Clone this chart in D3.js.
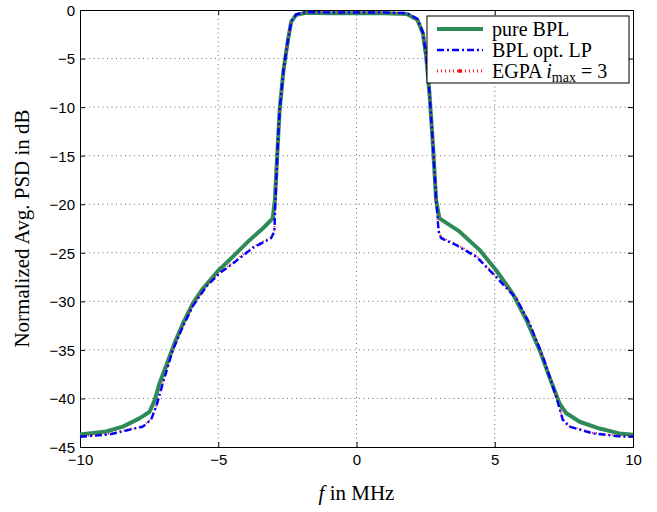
<!DOCTYPE html>
<html><head><meta charset="utf-8">
<script src="https://cdn.jsdelivr.net/npm/d3@7"></script>
<style>body{margin:0;background:#fff}svg{display:block}</style>
</head><body>
<script>
// ---- data ----
const xTicks = [-10, -5, 0, 5, 10];
const yTicks = [0, -5, -10, -15, -20, -25, -30, -35, -40, -45];
const seriesNames = ["pure BPL", "BPL opt. LP", "EGPA"];

const fPure = [-10,-9.05,-8.45,-7.85,-7.49,-7.3,-7.12,-6.88,-6.58,-6.28,-5.92,-5.56,-5.02,-4.47,-3.87,-3.39,-3.03,-2.95,-2.85,-2.78,-2.64,-2.48,-2.36,-2.18,-1.82,-1,0,1,1.82,2.2,2.4,2.52,2.64,2.76,2.88,3.0,3.72,4.45,5.05,5.65,6.14,6.62,6.98,7.34,7.58,8.07,8.79,9.5,10];
const psdPure = [-43.7,-43.4,-42.9,-42.05,-41.4,-40.2,-38.4,-36.6,-34.3,-32.3,-30.2,-28.7,-26.9,-25.4,-23.7,-22.5,-21.45,-19.5,-14,-10.3,-6.2,-3.1,-1.2,-0.5,-0.28,-0.33,-0.33,-0.33,-0.4,-1.0,-2.4,-4.8,-8.6,-13.7,-19.6,-21.45,-22.8,-24.7,-26.8,-29.2,-31.9,-35.0,-37.8,-40.5,-41.5,-42.4,-43.1,-43.6,-43.75];

const fLP = [-10,-8.93,-8.33,-7.73,-7.43,-7.24,-7.0,-6.64,-6.28,-5.92,-5.44,-4.95,-4.47,-3.75,-3.09,-2.97,-2.93,-2.85,-2.78,-2.64,-2.48,-2.36,-2.18,-1.82,-1,0,1,1.82,2.2,2.4,2.52,2.64,2.76,2.88,2.97,3.06,3.6,4.33,5.05,5.78,6.26,6.74,7.22,7.46,7.7,8.55,9.5,10];
const psdLP = [-43.95,-43.7,-43.3,-42.9,-42.2,-40.8,-38.4,-35.0,-32.6,-30.5,-28.5,-27.1,-26.1,-24.5,-23.5,-22.8,-19.5,-14,-10.3,-6.2,-3.1,-1.2,-0.45,-0.22,-0.25,-0.25,-0.25,-0.32,-0.9,-2.3,-4.7,-8.5,-13.6,-19.5,-22.8,-23.5,-24.2,-25.4,-27.5,-29.7,-32.3,-35.7,-39.8,-42.2,-42.9,-43.6,-43.9,-43.95];

const fEGPA = [-10,-8.93,-8.33,-7.73,-7.43,-7.24,-7.0,-6.64,-6.28,-5.92,-5.44,-4.95,-4.47,-3.75,-3.09,-2.97,-2.93,-2.85,-2.78,-2.64,-2.48,-2.36,-2.18,-1.82,-1,0,1,1.82,2.2,2.4,2.52,2.64,2.76,2.88,2.97,3.06,3.6,4.33,5.05,5.78,6.26,6.74,7.22,7.46,7.7,8.55,9.5,10];
const psdEGPA = [-43.9,-43.65,-43.25,-42.85,-42.1,-40.7,-38.3,-34.9,-32.5,-30.4,-28.4,-27.0,-26.0,-24.4,-23.4,-22.7,-19.5,-14,-10.3,-6.2,-3.1,-1.2,-0.45,-0.24,-0.27,-0.27,-0.27,-0.33,-0.9,-2.3,-4.7,-8.5,-13.6,-19.5,-22.7,-23.4,-24.1,-25.3,-27.4,-29.6,-32.2,-35.6,-39.7,-42.1,-42.85,-43.55,-43.85,-43.9];

// ---- layout ----
const W = 657, H = 512;
const m = {left: 80, right: 24, top: 10, bottom: 65};
const svg = d3.select("body").append("svg").attr("width", W).attr("height", H);
const x = d3.scaleLinear().domain([-10, 10]).range([m.left, W - m.right]);
const y = d3.scaleLinear().domain([-45, 0]).range([H - m.bottom, m.top]);
const tickFont = "'Liberation Sans', Arial, sans-serif";
const serif = "'Liberation Serif', 'Times New Roman', serif";

// grid
const grid = svg.append("g").attr("stroke", "#444").attr("stroke-width", 0.8).attr("stroke-dasharray", "1,3.5");
grid.selectAll("line.gx").data(xTicks.slice(1, -1)).join("line")
  .attr("x1", d => x(d)).attr("x2", d => x(d)).attr("y1", y(0)).attr("y2", y(-45));
grid.selectAll("line.gy").data(yTicks.slice(1, -1)).join("line")
  .attr("y1", d => y(d)).attr("y2", d => y(d)).attr("x1", x(-10)).attr("x2", x(10));

// axes
const fmt = d => d < 0 ? "\u2212" + Math.abs(d) : String(d);
const axB = svg.append("g").attr("transform", `translate(0,${y(-45)})`)
  .call(d3.axisBottom(x).tickValues(xTicks).tickSize(-5).tickPadding(7).tickFormat(fmt));
const axT = svg.append("g").attr("transform", `translate(0,${y(0)})`)
  .call(d3.axisTop(x).tickValues(xTicks).tickSize(-5).tickFormat(""));
const axL = svg.append("g").attr("transform", `translate(${x(-10)},0)`)
  .call(d3.axisLeft(y).tickValues(yTicks).tickSize(-5).tickPadding(5).tickFormat(fmt));
const axR = svg.append("g").attr("transform", `translate(${x(10)},0)`)
  .call(d3.axisRight(y).tickValues(yTicks).tickSize(-5).tickFormat(""));
[axB, axT, axL, axR].forEach(a => {
  a.select(".domain").attr("stroke", "#000").attr("stroke-width", 1);
  a.selectAll(".tick line").attr("stroke", "#000");
  a.selectAll("text").attr("font-family", tickFont).attr("font-size", 15).attr("fill", "#000");
});
axL.selectAll("text").attr("dy", "0.36em");

// lines
const line = d3.line().x(d => x(d[0])).y(d => y(d[1]));
const zip = (a, b) => a.map((v, i) => [v, b[i]]);
const plot = svg.append("g");
plot.append("path").datum(zip(fPure, psdPure)).attr("d", line)
  .attr("fill", "none").attr("stroke", "#2E8B57").attr("stroke-width", 4).attr("stroke-linejoin", "round");
plot.append("path").datum(zip(fEGPA, psdEGPA)).attr("d", line)
  .attr("fill", "none").attr("stroke", "#ff2020").attr("stroke-width", 2).attr("stroke-dasharray", "1,3");
plot.append("path").datum(zip(fLP, psdLP)).attr("d", line)
  .attr("fill", "none").attr("stroke", "#0000ff").attr("stroke-width", 2.4).attr("stroke-dasharray", "7,3,2,3");

// axis titles
svg.append("text").attr("x", x(0)).attr("y", 500).attr("text-anchor", "middle")
  .attr("font-family", serif).attr("font-size", 21)
  .html('<tspan font-style="italic">f</tspan> in MHz');
svg.append("text").attr("transform", `translate(29,${(y(0) + y(-45)) / 2}) rotate(-90)`)
  .attr("text-anchor", "middle").attr("font-family", serif).attr("font-size", 21)
  .text("Normalized Avg. PSD in dB");

// legend
const lg = svg.append("g");
lg.append("rect").attr("x", 427).attr("y", 16).attr("width", 202).attr("height", 67)
  .attr("fill", "#fff").attr("stroke", "#000").attr("stroke-width", 1);
const rows = [29, 50, 71];
const lx1 = 437, lx2 = 483;
lg.append("line").attr("x1", lx1).attr("x2", lx2).attr("y1", rows[0]).attr("y2", rows[0])
  .attr("stroke", "#2E8B57").attr("stroke-width", 4);
lg.append("line").attr("x1", lx1).attr("x2", lx2).attr("y1", rows[1]).attr("y2", rows[1])
  .attr("stroke", "#0000ff").attr("stroke-width", 2.4).attr("stroke-dasharray", "7,3,2,3");
lg.append("line").attr("x1", lx1).attr("x2", lx2).attr("y1", rows[2]).attr("y2", rows[2])
  .attr("stroke", "#ff2020").attr("stroke-width", 3).attr("stroke-dasharray", "1,3");
lg.append("circle").attr("cx", (lx1 + lx2) / 2).attr("cy", rows[2]).attr("r", 2).attr("fill", "#ff0000");
const lt = (i) => lg.append("text").attr("x", 492).attr("y", rows[i]).attr("dy", "0.33em")
  .attr("font-family", serif).attr("font-size", 20).attr("fill", "#000");
lt(0).text(seriesNames[0]);
lt(1).text(seriesNames[1]);
lt(2).html(seriesNames[2] + ' <tspan font-style="italic">i</tspan><tspan font-size="14" dy="4">max</tspan><tspan dy="-4"> = 3</tspan>');
</script>
</body></html>
